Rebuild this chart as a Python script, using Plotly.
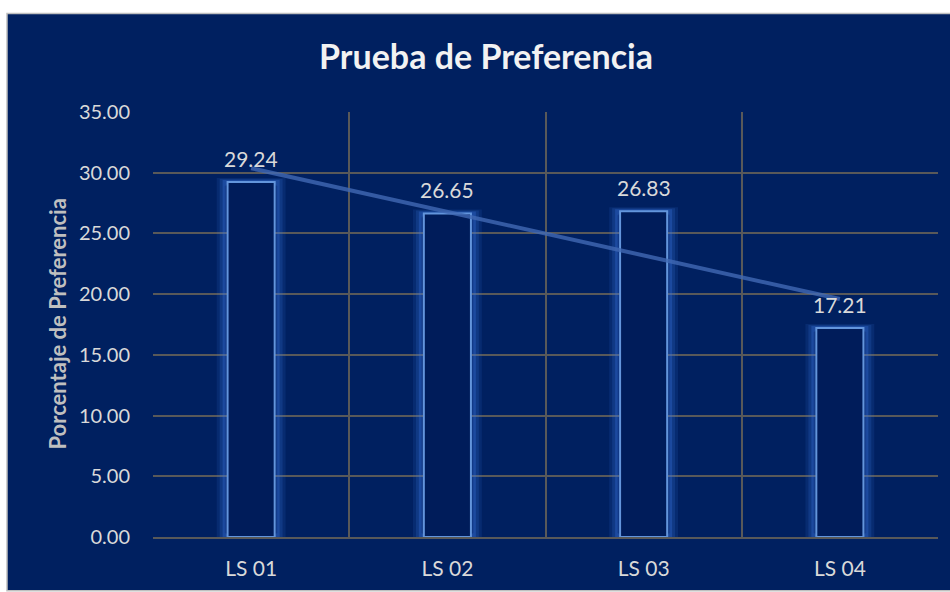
import plotly.graph_objects as go
import numpy as np

categories = ["LS 01", "LS 02", "LS 03", "LS 04"]
values = [29.24, 26.65, 26.83, 17.21]
y_ticks = [0, 5, 10, 15, 20, 25, 30, 35]
y_tick_text = ["0.00", "5.00", "10.00", "15.00", "20.00", "25.00", "30.00", "35.00"]
value_labels = [f"{v:.2f}" for v in values]

# linear trend line fitted to the series
idx = np.arange(1, len(values) + 1)
slope, intercept = np.polyfit(idx, values, 1)
trend = list(slope * idx + intercept)

NAVY = "#002060"
FONT = "Lato"
W, H = 950, 592
L, R, T, B = 153, 12, 112, 53
PW, PH = W - L - R, H - T - B

def px_x(p):
    return (p - L) / PW

def px_y(p):
    return (H - B - p) / PH

fig = go.Figure()

# glow layers
for w, lw, a in [(0.31, 8, 0.12), (0.29, 6, 0.18), (0.27, 4, 0.28)]:
    fig.add_trace(go.Bar(
        x=categories, y=values, width=w,
        marker=dict(color="rgba(0,0,0,0)", line=dict(color=f"rgba(60,120,230,{a})", width=lw)),
        hoverinfo="skip", showlegend=False,
    ))
fig.add_trace(go.Bar(
    x=categories, y=values, width=0.24,
    marker=dict(color="rgba(0,28,90,1)", line=dict(color="#6395dc", width=2)),
    showlegend=False,
))
fig.add_trace(go.Scatter(
    x=categories, y=trend, mode="lines",
    line=dict(color="rgba(65,105,180,0.8)", width=4),
    showlegend=False, hoverinfo="skip",
))

for c, v, t in zip(categories, values, value_labels):
    fig.add_annotation(x=c, y=v, text=t, showarrow=False, yanchor="bottom", yshift=9,
                       font=dict(family=FONT, size=21, color="#d9d9d9"))

fig.add_annotation(xref="paper", yref="paper", x=px_x(57), y=0.5, xanchor="center", yanchor="middle",
                   text="<b>Porcentaje de Preferencia</b>",
                   textangle=-90, showarrow=False, font=dict(family=FONT, size=22, color="#bfbfbf"))

# navy chart background with border
fig.add_shape(type="rect", xref="paper", yref="paper", layer="below",
              x0=px_x(7), x1=px_x(951), y0=px_y(593), y1=px_y(13),
              fillcolor=NAVY, line=dict(color="#bfbfbf", width=1.5))

fig.update_layout(
    width=W, height=H,
    margin=dict(l=L, r=R, t=T, b=B),
    paper_bgcolor="white", plot_bgcolor="rgba(0,0,0,0)",
    barmode="overlay",
    title=dict(text="<b>Prueba de Preferencia</b>", x=486 / W, xanchor="center",
               y=1 - 57 / H, yanchor="middle",
               font=dict(family=FONT, size=34, color="#f2f2f2")),
    xaxis=dict(type="category", tickson="boundaries", showgrid=True, gridcolor="#595959", gridwidth=1.5,
               ticks="", showline=True, linecolor="#595959", linewidth=1.5, mirror=False,
               tickfont=dict(family=FONT, size=21, color="#d9d9d9"), ticklabelstandoff=12,
               range=[-0.5, 3.5], fixedrange=True),
    yaxis=dict(range=[0, 35], tickvals=y_ticks, ticktext=y_tick_text, showgrid=True,
               gridcolor="#595959", gridwidth=1.5, zeroline=False, showline=False,
               tickfont=dict(family=FONT, size=20, color="#d9d9d9"), ticks="", ticklabelstandoff=22),
)

fig.write_html("out.html")
